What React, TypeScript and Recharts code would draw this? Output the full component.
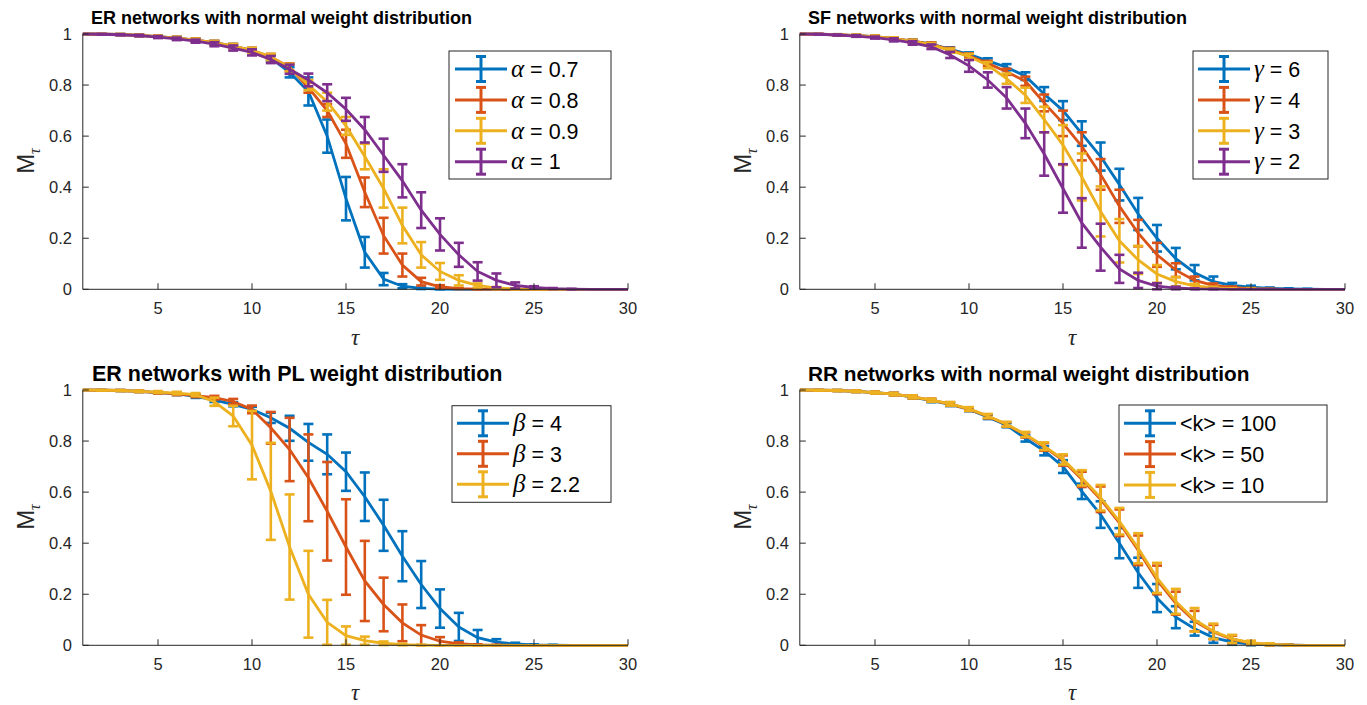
import React from 'react';
import { LineChart, Line, XAxis, YAxis, ErrorBar } from 'recharts';

const FONT = '"Liberation Sans", Arial, Helvetica, sans-serif';
const SERIF = '"Liberation Serif", "DejaVu Serif", serif';
const AXIS = '#262626';
const BLUE = '#0072BD';
const ORANGE = '#D95319';
const YELLOW = '#EDB120';
const PURPLE = '#7E2F8E';

const TAU = [1, 2, 3, 4, 5, 6, 7, 8, 9, 10, 11, 12, 13, 14, 15, 16, 17, 18, 19, 20, 21, 22, 23, 24, 25, 26, 27, 28, 29, 30];
const X_TICKS = [5, 10, 15, 20, 25, 30];
const Y_TICKS = [0, 0.2, 0.4, 0.6, 0.8, 1];

// ER networks, normal weights (alpha)
const erA07 = [1, 0.999, 0.998, 0.995, 0.99, 0.984, 0.976, 0.966, 0.953, 0.935, 0.905, 0.85, 0.775, 0.6, 0.355, 0.145, 0.04, 0.012, 0.004, 0.001, 0, 0, 0, 0, 0, 0, 0, 0, 0, 0];
const erA07Err = [0, 0.001, 0.002, 0.003, 0.004, 0.005, 0.006, 0.007, 0.008, 0.01, 0.012, 0.02, 0.055, 0.065, 0.085, 0.06, 0.024, 0.008, 0.003, 0.001, 0, 0, 0, 0, 0, 0, 0, 0, 0, 0];
const erA08 = [1, 0.999, 0.998, 0.995, 0.99, 0.984, 0.976, 0.966, 0.953, 0.936, 0.91, 0.87, 0.79, 0.7, 0.57, 0.38, 0.21, 0.095, 0.03, 0.01, 0.003, 0.001, 0, 0, 0, 0, 0, 0, 0, 0];
const erA08Err = [0, 0.001, 0.002, 0.003, 0.004, 0.005, 0.006, 0.007, 0.008, 0.01, 0.012, 0.015, 0.02, 0.025, 0.055, 0.058, 0.07, 0.045, 0.015, 0.006, 0.002, 0.001, 0, 0, 0, 0, 0, 0, 0, 0];
const erA09 = [1, 0.999, 0.998, 0.995, 0.99, 0.984, 0.976, 0.966, 0.953, 0.936, 0.91, 0.868, 0.8, 0.735, 0.64, 0.52, 0.395, 0.25, 0.135, 0.07, 0.035, 0.015, 0.005, 0.002, 0.001, 0, 0, 0, 0, 0];
const erA09Err = [0, 0.001, 0.002, 0.003, 0.004, 0.005, 0.006, 0.007, 0.008, 0.01, 0.012, 0.015, 0.02, 0.035, 0.035, 0.05, 0.075, 0.07, 0.05, 0.033, 0.02, 0.008, 0.004, 0.002, 0.001, 0, 0, 0, 0, 0];
const erA1 = [1, 0.999, 0.997, 0.994, 0.988, 0.981, 0.972, 0.96, 0.945, 0.928, 0.9, 0.862, 0.82, 0.77, 0.705, 0.625, 0.525, 0.425, 0.31, 0.215, 0.135, 0.07, 0.035, 0.015, 0.007, 0.003, 0.001, 0, 0, 0];
const erA1Err = [0, 0.001, 0.002, 0.003, 0.004, 0.005, 0.006, 0.008, 0.01, 0.012, 0.014, 0.018, 0.025, 0.033, 0.045, 0.05, 0.065, 0.065, 0.07, 0.063, 0.047, 0.036, 0.027, 0.012, 0.005, 0.002, 0.001, 0, 0, 0];

// SF networks, normal weights (gamma)
const sfG6 = [1, 0.999, 0.997, 0.994, 0.99, 0.982, 0.972, 0.96, 0.94, 0.92, 0.895, 0.87, 0.835, 0.765, 0.7, 0.61, 0.52, 0.41, 0.295, 0.2, 0.12, 0.065, 0.03, 0.015, 0.008, 0.004, 0.002, 0.001, 0, 0];
const sfG6Err = [0, 0.001, 0.002, 0.003, 0.004, 0.005, 0.006, 0.007, 0.008, 0.008, 0.01, 0.012, 0.015, 0.027, 0.037, 0.048, 0.055, 0.062, 0.063, 0.052, 0.042, 0.03, 0.02, 0.01, 0.006, 0.003, 0.002, 0.001, 0, 0];
const sfG4 = [1, 0.999, 0.997, 0.994, 0.99, 0.982, 0.972, 0.96, 0.938, 0.915, 0.885, 0.852, 0.815, 0.73, 0.65, 0.56, 0.45, 0.325, 0.22, 0.135, 0.075, 0.035, 0.015, 0.007, 0.003, 0.001, 0, 0, 0, 0];
const sfG4Err = [0, 0.001, 0.002, 0.003, 0.004, 0.005, 0.006, 0.007, 0.008, 0.009, 0.01, 0.012, 0.018, 0.033, 0.05, 0.055, 0.06, 0.065, 0.052, 0.047, 0.027, 0.015, 0.008, 0.004, 0.002, 0.001, 0, 0, 0, 0];
const sfG3 = [1, 0.999, 0.997, 0.994, 0.99, 0.982, 0.971, 0.958, 0.935, 0.912, 0.878, 0.825, 0.76, 0.665, 0.565, 0.44, 0.305, 0.19, 0.115, 0.06, 0.03, 0.013, 0.006, 0.002, 0.001, 0, 0, 0, 0, 0];
const sfG3Err = [0, 0.001, 0.002, 0.003, 0.004, 0.005, 0.006, 0.007, 0.008, 0.01, 0.012, 0.02, 0.03, 0.05, 0.078, 0.092, 0.098, 0.085, 0.055, 0.035, 0.018, 0.008, 0.004, 0.002, 0.001, 0, 0, 0, 0, 0];
const sfG2 = [1, 0.999, 0.996, 0.992, 0.986, 0.977, 0.965, 0.95, 0.918, 0.875, 0.82, 0.75, 0.65, 0.53, 0.395, 0.26, 0.165, 0.08, 0.035, 0.012, 0.005, 0.002, 0.001, 0, 0, 0, 0, 0, 0, 0];
const sfG2Err = [0, 0.001, 0.002, 0.003, 0.004, 0.006, 0.007, 0.009, 0.012, 0.023, 0.03, 0.042, 0.058, 0.085, 0.095, 0.097, 0.092, 0.055, 0.03, 0.012, 0.005, 0.002, 0.001, 0, 0, 0, 0, 0, 0, 0];

// ER networks, power-law weights (beta)
const plB4 = [1, 0.999, 0.998, 0.995, 0.99, 0.985, 0.975, 0.96, 0.944, 0.924, 0.891, 0.85, 0.795, 0.748, 0.68, 0.582, 0.47, 0.349, 0.238, 0.144, 0.072, 0.03, 0.012, 0.005, 0.002, 0.001, 0, 0, 0, 0];
const plB4Err = [0, 0.001, 0.002, 0.003, 0.004, 0.005, 0.006, 0.007, 0.008, 0.01, 0.02, 0.049, 0.072, 0.078, 0.075, 0.095, 0.1, 0.098, 0.092, 0.075, 0.055, 0.03, 0.012, 0.005, 0.002, 0.001, 0, 0, 0, 0];
const plB3 = [1, 0.999, 0.998, 0.995, 0.99, 0.985, 0.978, 0.97, 0.955, 0.924, 0.852, 0.767, 0.656, 0.525, 0.385, 0.252, 0.16, 0.088, 0.04, 0.016, 0.006, 0.002, 0.001, 0, 0, 0, 0, 0, 0, 0];
const plB3Err = [0, 0.001, 0.002, 0.003, 0.004, 0.005, 0.006, 0.007, 0.01, 0.015, 0.062, 0.124, 0.17, 0.193, 0.187, 0.157, 0.105, 0.072, 0.039, 0.016, 0.006, 0.002, 0.001, 0, 0, 0, 0, 0, 0, 0];
const plB22 = [1, 0.999, 0.998, 0.995, 0.992, 0.988, 0.982, 0.954, 0.898, 0.784, 0.603, 0.385, 0.2, 0.09, 0.038, 0.018, 0.008, 0.003, 0.001, 0, 0, 0, 0, 0, 0, 0, 0, 0, 0, 0];
const plB22Err = [0, 0.001, 0.002, 0.003, 0.004, 0.005, 0.006, 0.016, 0.04, 0.134, 0.19, 0.206, 0.17, 0.088, 0.036, 0.016, 0.007, 0.003, 0.001, 0, 0, 0, 0, 0, 0, 0, 0, 0, 0, 0];

// RR networks, normal weights (<k>)
const rrK100 = [1, 0.999, 0.998, 0.995, 0.99, 0.984, 0.972, 0.958, 0.944, 0.924, 0.894, 0.862, 0.81, 0.762, 0.7, 0.603, 0.512, 0.4, 0.284, 0.185, 0.11, 0.065, 0.03, 0.012, 0.005, 0.002, 0.001, 0, 0, 0];
const rrK100Err = [0, 0.001, 0.002, 0.003, 0.004, 0.005, 0.006, 0.006, 0.007, 0.007, 0.008, 0.008, 0.012, 0.018, 0.025, 0.03, 0.052, 0.059, 0.059, 0.055, 0.043, 0.027, 0.02, 0.01, 0.005, 0.002, 0.001, 0, 0, 0];
const rrK50 = [1, 0.999, 0.998, 0.995, 0.99, 0.984, 0.973, 0.96, 0.945, 0.925, 0.897, 0.865, 0.824, 0.777, 0.724, 0.65, 0.572, 0.48, 0.372, 0.256, 0.165, 0.095, 0.052, 0.023, 0.009, 0.003, 0.001, 0, 0, 0];
const rrK50Err = [0, 0.001, 0.002, 0.003, 0.004, 0.005, 0.006, 0.006, 0.007, 0.007, 0.008, 0.009, 0.01, 0.015, 0.02, 0.03, 0.05, 0.052, 0.058, 0.056, 0.045, 0.04, 0.028, 0.015, 0.007, 0.003, 0.001, 0, 0, 0];
const rrK10 = [1, 0.999, 0.998, 0.995, 0.99, 0.984, 0.973, 0.96, 0.946, 0.926, 0.898, 0.866, 0.826, 0.78, 0.728, 0.656, 0.578, 0.486, 0.38, 0.264, 0.172, 0.1, 0.055, 0.025, 0.01, 0.004, 0.001, 0, 0, 0];
const rrK10Err = [0, 0.001, 0.002, 0.003, 0.004, 0.005, 0.006, 0.006, 0.007, 0.007, 0.008, 0.009, 0.01, 0.015, 0.02, 0.03, 0.05, 0.052, 0.059, 0.059, 0.049, 0.046, 0.03, 0.016, 0.008, 0.004, 0.001, 0, 0, 0];

interface Series {
  values: number[];
  errors: number[];
  color: string;
}

const erSeries: Series[] = [
  { values: erA07, errors: erA07Err, color: BLUE },
  { values: erA08, errors: erA08Err, color: ORANGE },
  { values: erA09, errors: erA09Err, color: YELLOW },
  { values: erA1, errors: erA1Err, color: PURPLE },
];
const sfSeries: Series[] = [
  { values: sfG6, errors: sfG6Err, color: BLUE },
  { values: sfG4, errors: sfG4Err, color: ORANGE },
  { values: sfG3, errors: sfG3Err, color: YELLOW },
  { values: sfG2, errors: sfG2Err, color: PURPLE },
];
const plSeries: Series[] = [
  { values: plB4, errors: plB4Err, color: BLUE },
  { values: plB3, errors: plB3Err, color: ORANGE },
  { values: plB22, errors: plB22Err, color: YELLOW },
];
const rrSeries: Series[] = [
  { values: rrK100, errors: rrK100Err, color: BLUE },
  { values: rrK50, errors: rrK50Err, color: ORANGE },
  { values: rrK10, errors: rrK10Err, color: YELLOW },
];

const tickStyle = { fontSize: 16.5, fill: AXIS, fontFamily: FONT };

function Panel({ left, top, series }: { left: number; top: number; series: Series[] }) {
  const data = TAU.map((t, i) => {
    const row: Record<string, number> = { t };
    series.forEach((s, k) => {
      row['v' + k] = s.values[i];
      row['e' + k] = s.errors[i];
    });
    return row;
  });

  return (
    <div style={{ position: 'absolute', left, top }}>
      <LineChart width={650} height={344.3} data={data} margin={{ top: 34, right: 22, bottom: 0, left: 0 }}>
        <XAxis
          xAxisId="b"
          dataKey="t"
          type="number"
          domain={[1, 30]}
          ticks={X_TICKS}
          interval={0}
          height={55}
          tickSize={-6}
          tickMargin={19}
          stroke={AXIS}
          tick={tickStyle}
        />
        <XAxis
          xAxisId="tp"
          orientation="top"
          dataKey="t"
          type="number"
          domain={[1, 30]}
          ticks={X_TICKS}
          interval={0}
          height={0}
          tickSize={-6}
          stroke={AXIS}
          tick={false}
        />
        <YAxis
          yAxisId="l"
          type="number"
          domain={[0, 1]}
          ticks={Y_TICKS}
          interval={0}
          width={82.8}
          tickSize={-6}
          tickMargin={16.8}
          stroke={AXIS}
          tick={tickStyle}
          tickFormatter={(v) => String(v)}
        />
        <YAxis
          yAxisId="r"
          orientation="right"
          type="number"
          domain={[0, 1]}
          ticks={Y_TICKS}
          interval={0}
          width={0}
          tickSize={-6}
          stroke={AXIS}
          tick={false}
        />
        {series.map((s, k) => (
          <Line
            key={k}
            xAxisId="b"
            yAxisId="l"
            type="linear"
            dataKey={'v' + k}
            stroke={s.color}
            strokeWidth={2.8}
            dot={false}
            activeDot={false}
            isAnimationActive={false}
          >
            <ErrorBar
              dataKey={'e' + k}
              direction="y"
              width={5}
              stroke={s.color}
              strokeWidth={2.6}
              isAnimationActive={false}
            />
          </Line>
        ))}
      </LineChart>
    </div>
  );
}

interface LegendItem {
  color: string;
  label: React.ReactNode;
}

function LegendBox({ x, y, w, h, items, firstRow, gap, lineStart }: {
  x: number; y: number; w: number; h: number; items: LegendItem[]; firstRow: number; gap: number; lineStart: number;
}) {
  return (
    <g>
      <rect x={x} y={y} width={w} height={h} fill="#fff" stroke={AXIS} strokeWidth={1} />
      {items.map((it, i) => {
        const cy = y + firstRow + i * gap;
        const lx = x + lineStart;
        const bx = lx + 26;
        return (
          <g key={i}>
            <line x1={lx} x2={lx + 52} y1={cy} y2={cy} stroke={it.color} strokeWidth={3} />
            <line x1={bx} x2={bx} y1={cy - 12.5} y2={cy + 12.5} stroke={it.color} strokeWidth={3} />
            <line x1={bx - 5} x2={bx + 5} y1={cy - 12.5} y2={cy - 12.5} stroke={it.color} strokeWidth={3} />
            <line x1={bx - 5} x2={bx + 5} y1={cy + 12.5} y2={cy + 12.5} stroke={it.color} strokeWidth={3} />
            <text x={lx + 56} y={cy + 7.7} fontSize={21.5} fontFamily={FONT} fill="#000">
              {it.label}
            </text>
          </g>
        );
      })}
    </g>
  );
}

const greek = (sym: string, rest: string) => (
  <>
    <tspan fontFamily={SERIF} fontStyle="italic" fontSize={25}>{sym}</tspan>
    <tspan>{rest}</tspan>
  </>
);

function YLabel({ x, y }: { x: number; y: number }) {
  return (
    <g transform={`translate(${x},${y}) rotate(-90)`}>
      <text x={0} y={0} textAnchor="middle" fontSize={24} fontFamily={FONT} fill={AXIS}>
        M
        <tspan fontFamily={SERIF} fontStyle="italic" fontSize={16} dy={6}>τ</tspan>
      </text>
    </g>
  );
}

function XLabel({ x, y }: { x: number; y: number }) {
  return (
    <text x={x} y={y} textAnchor="middle" fontSize={23} fontFamily={SERIF} fontStyle="italic" fill={AXIS}>
      τ
    </text>
  );
}

export default function App() {
  return (
    <div style={{ position: 'absolute', left: 0, top: 0, width: 1367, height: 705, background: '#fff' }}>
      <Panel left={0} top={0} series={erSeries} />
      <Panel left={717} top={0} series={sfSeries} />
      <Panel left={0} top={355.7} series={plSeries} />
      <Panel left={717} top={355.7} series={rrSeries} />
      <svg
        width={1367}
        height={705}
        style={{ position: 'absolute', left: 0, top: 0, pointerEvents: 'none' }}
      >
        <text x={91} y={24} fontSize={18} fontWeight="bold" fontFamily={FONT} fill="#000">
          ER networks with normal weight distribution
        </text>
        <text x={808} y={24} fontSize={18} fontWeight="bold" fontFamily={FONT} fill="#000">
          SF networks with normal weight distribution
        </text>
        <text x={92} y={381} fontSize={21.5} fontWeight="bold" fontFamily={FONT} fill="#000">
          ER networks with PL weight distribution
        </text>
        <text x={808} y={381} fontSize={20.8} fontWeight="bold" fontFamily={FONT} fill="#000">
          RR networks with normal weight distribution
        </text>

        <YLabel x={34} y={161} />
        <YLabel x={751} y={161} />
        <YLabel x={34} y={517} />
        <YLabel x={751} y={517} />

        <XLabel x={355} y={345} />
        <XLabel x={1072} y={345} />
        <XLabel x={355} y={700} />
        <XLabel x={1072} y={700} />

        <LegendBox
          x={449} y={51} w={162} h={128} firstRow={18} gap={30.9} lineStart={6}
          items={[
            { color: BLUE, label: greek('α', ' = 0.7') },
            { color: ORANGE, label: greek('α', ' = 0.8') },
            { color: YELLOW, label: greek('α', ' = 0.9') },
            { color: PURPLE, label: greek('α', ' = 1') },
          ]}
        />
        <LegendBox
          x={1193} y={51} w={135} h={128} firstRow={18} gap={30.9} lineStart={5}
          items={[
            { color: BLUE, label: greek('γ', ' = 6') },
            { color: ORANGE, label: greek('γ', ' = 4') },
            { color: YELLOW, label: greek('γ', ' = 3') },
            { color: PURPLE, label: greek('γ', ' = 2') },
          ]}
        />
        <LegendBox
          x={452} y={405.7} w={159} h={96.6} firstRow={17.6} gap={30.5} lineStart={5}
          items={[
            { color: BLUE, label: greek('β', ' = 4') },
            { color: ORANGE, label: greek('β', ' = 3') },
            { color: YELLOW, label: greek('β', ' = 2.2') },
          ]}
        />
        <LegendBox
          x={1119} y={405} w={208} h={97} firstRow={18.3} gap={30.8} lineStart={5}
          items={[
            { color: BLUE, label: '<k> = 100' },
            { color: ORANGE, label: '<k> = 50' },
            { color: YELLOW, label: '<k> = 10' },
          ]}
        />
      </svg>
    </div>
  );
}
